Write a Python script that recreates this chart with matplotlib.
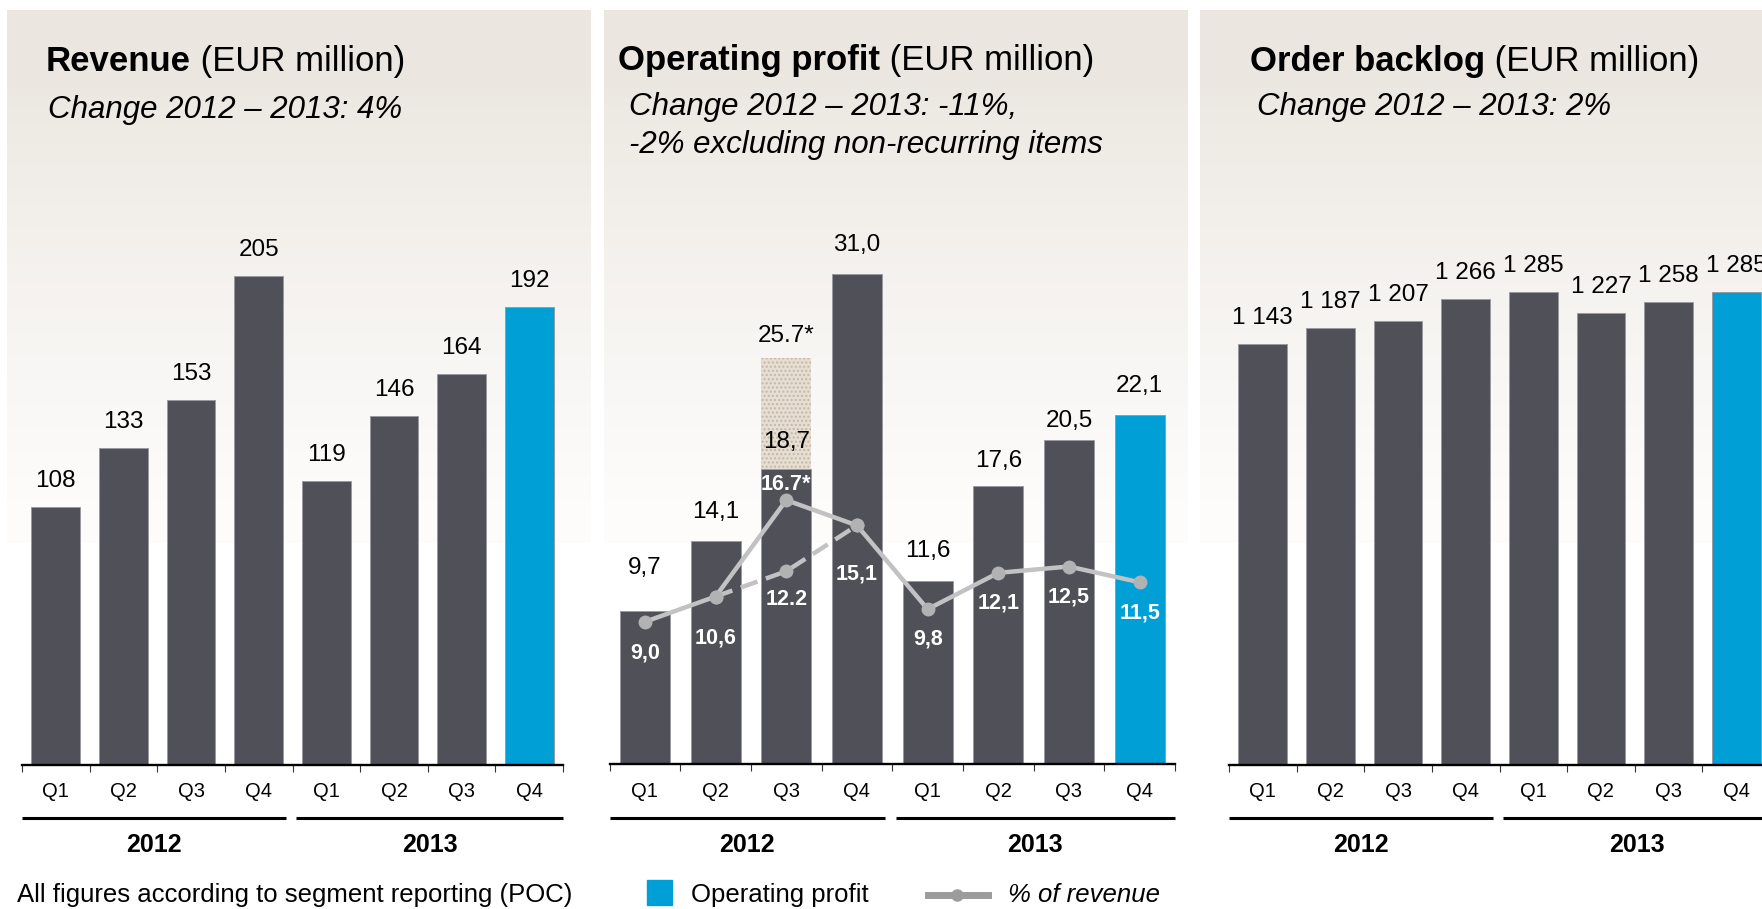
import numpy as np
import matplotlib.pyplot as plt
from matplotlib.transforms import blended_transform_factory

plt.rcParams['font.family'] = ['Liberation Sans', 'DejaVu Sans']

W, H = 1762, 909

quarters = ["Q1", "Q2", "Q3", "Q4", "Q1", "Q2", "Q3", "Q4"]
years = ["2012", "2013"]

revenue = [108, 133, 153, 205, 119, 146, 164, 192]

op_profit = [9.7, 14.1, 18.7, 31.0, 11.6, 17.6, 20.5, 22.1]
op_profit_q3_reported = 25.7          # Q3/2012 incl. non-recurring items
op_margin = [9.0, 10.6, 16.7, 15.1, 9.8, 12.1, 12.5, 11.5]
op_margin_q3_excl = 12.2              # Q3/2012 margin excl. non-recurring items

backlog = [1143, 1187, 1207, 1266, 1285, 1227, 1258, 1285]

DARK = '#4f5058'
BLUE = '#009fd6'
LINE = '#c2c2c4'
DOT = '#b2b2b5'


def fx(x):
    return x / W


def fy(y):
    return 1 - y / H


fig = plt.figure(figsize=(W / 100, H / 100), dpi=100)

# beige-to-white gradient panels behind each chart
bg = np.ones((H, W, 3))
top_c = np.array([0xeb, 0xe7, 0xe0]) / 255
bot_c = np.array([0xfd, 0xfc, 0xfb]) / 255
rows = np.arange(H)
t = np.clip((rows - 80) / (500 - 80), 0, 1)[:, None] ** 0.8
grad = top_c * (1 - t) + bot_c * t
for x0, x1 in [(7, 591), (604, 1188), (1200, 1762)]:
    bg[10:543, x0:x1] = grad[10:543][:, None, :]
bax = fig.add_axes([0, 0, 1, 1], zorder=-5)
bax.imshow(bg, aspect='auto', extent=(0, W, H, 0), interpolation='nearest')
bax.set_xlim(0, W)
bax.set_ylim(H, 0)
bax.axis('off')


def bar_axes(x0, x1, base, scale, top=150):
    ax = fig.add_axes([fx(x0), fy(base), (x1 - x0) / W, (base - top) / H])
    ax.set_xlim(-0.5, 7.5)
    ax.set_ylim(0, (base - top) / scale)
    ax.patch.set_alpha(0)
    for s in ['left', 'right', 'top']:
        ax.spines[s].set_visible(False)
    ax.spines['bottom'].set_linewidth(1.7)
    ax.spines['bottom'].set_color('black')
    ax.set_yticks([])
    ax.set_xticks(np.arange(-0.5, 8, 1))
    ax.set_xticklabels([])
    ax.tick_params(axis='x', direction='out', length=5, width=0.8, color='#333333')
    # quarter labels, year rules and year labels under the axis
    tr = blended_transform_factory(ax.transData, fig.transFigure)
    for i, q in enumerate(quarters):
        ax.text(i, fy(797), q, transform=tr, ha='center', va='baseline',
                fontsize=14.5, color='black')
    for (a, b), yr in zip([(-0.5, 3.4), (3.55, 7.5)], years):
        ax.plot([a, b], [fy(818), fy(818)], transform=tr, color='black',
                lw=2.2, solid_capstyle='butt', clip_on=False)
        ax.text((a + b) / 2, fy(852), yr, transform=tr, ha='center',
                va='baseline', fontsize=18, fontweight='bold')
    return ax


def title(x, y, bold, rest, sub_lines, sub_x, sub_y, sub_dy=38):
    t1 = fig.text(fx(x), fy(y), bold, fontsize=25, fontweight='bold',
                  va='baseline', ha='left')
    plt.annotate(rest, xy=(1, 0), xycoords=t1, fontsize=25,
                 va='bottom', ha='left', annotation_clip=False)
    for k, line in enumerate(sub_lines):
        fig.text(fx(sub_x), fy(sub_y + k * sub_dy), line, fontsize=22.5,
                 style='italic', va='baseline', ha='left')


colors = [DARK] * 7 + [BLUE]
px2pt = 0.72

# Revenue
ax1 = bar_axes(22, 563, 765, 2.387)
ax1.bar(range(8), revenue, width=0.72, color=colors, edgecolor='#9a9aa0',
        linewidth=0.7)
for i, v in enumerate(revenue):
    ax1.annotate(str(v), (i, v), xytext=(0, 26 * px2pt), textcoords='offset points',
                 ha='center', va='center', fontsize=17.5)
title(46, 71, 'Revenue', ' (EUR million)', ['Change 2012 \u2013 2013: 4%'], 48, 118)

# Operating profit
ax2 = bar_axes(609.6, 1175, 764, 15.8)
ax2.bar(range(8), op_profit, width=0.71, color=colors, edgecolor='#9a9aa0',
        linewidth=0.7, zorder=2)
ax2.bar(2, op_profit_q3_reported - op_profit[2], bottom=op_profit[2], width=0.71,
        color='#e6ded3', edgecolor='#c4b7a6', hatch='....', linewidth=0, zorder=2)
op_dy = [43, 29, 27, 29, 30, 25, 19, 29]
for i, v in enumerate(op_profit):
    ax2.annotate(f"{v:.1f}".replace('.', ','), (i, v), xytext=(0, op_dy[i] * px2pt),
                 textcoords='offset points', ha='center', va='center',
                 fontsize=17.5, zorder=5)
ax2.annotate(f"{op_profit_q3_reported:.1f}*", (2, op_profit_q3_reported),
             xytext=(0, 22 * px2pt), textcoords='offset points', ha='center',
             va='center', fontsize=17.5, zorder=5)

# operating margin line, dashed where non-recurring items are excluded
ax2.plot([1, 2, 3], [op_margin[1], op_margin_q3_excl, op_margin[3]], color=LINE,
         lw=3.2, dashes=(4, 2), marker='o', markersize=9, markerfacecolor=DOT,
         markeredgecolor=DOT, zorder=3)
ax2.plot(range(8), op_margin, color=LINE, lw=3.2, marker='o', markersize=9,
         markerfacecolor=DOT, markeredgecolor=DOT, zorder=3)
pct_dy = [31, 41, -16, 49, 30, 30, 31, 31]
for i, v in enumerate(op_margin):
    lab = f"{v:.1f}*" if i == 2 else f"{v:.1f}".replace('.', ',')
    ax2.annotate(lab, (i, v), xytext=(0, -pct_dy[i] * px2pt), textcoords='offset points',
                 ha='center', va='center', fontsize=15.5, fontweight='bold',
                 color='white', zorder=6)
ax2.annotate(f"{op_margin_q3_excl:.1f}", (2, op_margin_q3_excl),
             xytext=(0, -28 * px2pt), textcoords='offset points', ha='center',
             va='center', fontsize=15.5, fontweight='bold', color='white', zorder=6)
title(618, 70, 'Operating profit', ' (EUR million)',
      ['Change 2012 \u2013 2013: -11%,', '-2% excluding non-recurring items'], 629, 115)

# Order backlog
ax3 = bar_axes(1229, 1770, 765, 0.368)
ax3.bar(range(8), backlog, width=0.72, color=colors, edgecolor='#9a9aa0',
        linewidth=0.7)
for i, v in enumerate(backlog):
    ax3.annotate(f"{v:,}".replace(',', ' '), (i, v), xytext=(0, 26 * px2pt),
                 textcoords='offset points', ha='center', va='center', fontsize=17.5)
title(1250, 71, 'Order backlog', ' (EUR million)', ['Change 2012 \u2013 2013: 2%'], 1257, 115)

# footer and legend
fig.text(fx(17), fy(902), 'All figures according to segment reporting (POC)',
         fontsize=18.5, va='baseline')
fig.patches.append(plt.Rectangle((fx(647), fy(905)), 25 / W, 25 / H, color=BLUE,
                                 transform=fig.transFigure, figure=fig))
fig.text(fx(691), fy(902), 'Operating profit', fontsize=18.5, va='baseline')
fig.add_artist(plt.Line2D([fx(928), fx(988)], [fy(895), fy(895)], color='#9c9c9c',
                          lw=5, transform=fig.transFigure))
fig.add_artist(plt.Line2D([fx(957)], [fy(895)], marker='o', markersize=8,
                          color='#9c9c9c', transform=fig.transFigure))
fig.text(fx(1008), fy(902), '% of revenue', fontsize=18.5, style='italic',
         va='baseline')

fig.savefig('out.png', dpi=100)
